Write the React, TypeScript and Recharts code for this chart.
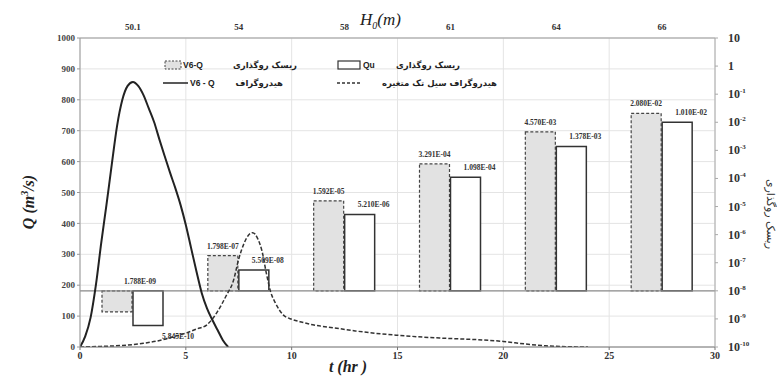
import {
  ComposedChart,
  Line,
  Bar,
  XAxis,
  YAxis,
  CartesianGrid,
  ReferenceLine,
  LabelList,
} from 'recharts';

document.body.style.margin = '0';

// top axis: H0 (m) per risk group
const heads = ['50.1', '54', '58', '61', '64', '66'];

// overtopping risk (right log axis), hanging from 1e-8
const riskV6Q = [1.788e-9, 1.798e-7, 1.592e-5, 3.291e-4, 4.57e-3, 2.08e-2];
const riskQu = [5.845e-10, 5.509e-8, 5.21e-6, 1.098e-4, 1.378e-3, 1.01e-2];
const riskV6QText = ['1.788E-09', '1.798E-07', '1.592E-05', '3.291E-04', '4.570E-03', '2.080E-02'];
const riskQuText = ['5.845E-10', '5.509E-08', '5.210E-06', '1.098E-04', '1.378E-03', '1.010E-02'];
const riskBase = 1e-8;

// V6-Q hydrograph
const v6qTime = [0, 0.25, 0.5, 0.75, 1, 1.25, 1.5, 1.75, 2, 2.25, 2.5, 2.75, 3, 3.25, 3.5, 3.75, 4, 4.25, 4.5, 4.75, 5, 5.25, 5.5, 5.75, 6, 6.25, 6.5, 6.75, 7];
const v6qFlow = [0, 35, 95, 200, 335, 460, 590, 715, 800, 845, 858, 845, 815, 772, 728, 672, 618, 565, 515, 460, 395, 320, 245, 175, 125, 88, 55, 22, 0];

// univariate flood hydrograph
const uniTime = [0, 1, 2, 3, 4, 4.5, 5, 5.5, 6, 6.5, 6.9, 7.25, 7.5, 7.75, 8, 8.15, 8.4, 8.6, 8.8, 9, 9.25, 9.6, 10, 10.5, 11, 12, 13, 14, 15, 16, 17, 18, 19, 20, 21, 22, 23, 24];
const uniFlow = [0, 2, 5, 12, 25, 35, 45, 58, 72, 115, 165, 215, 285, 335, 365, 370, 350, 310, 240, 180, 140, 104, 90, 80, 72, 62, 52, 44, 38, 33, 29, 26, 23, 18, 10, 4, 1, 0];

const flowTicks = [0, 100, 200, 300, 400, 500, 600, 700, 800, 900, 1000];
const timeTicks = [0, 5, 10, 15, 20, 25, 30];
const riskTicks = [10, 1, 1e-1, 1e-2, 1e-3, 1e-4, 1e-5, 1e-6, 1e-7, 1e-8, 1e-9, 1e-10];

const barRows = heads.map((h, i) => ({
  h,
  v6q: [Math.min(riskBase, riskV6Q[i]), Math.max(riskBase, riskV6Q[i])],
  qu: [Math.min(riskBase, riskQu[i]), Math.max(riskBase, riskQu[i])],
}));
const v6qData = v6qTime.map((t, i) => ({ t, q: v6qFlow[i] }));
const uniData = uniTime.map((t, i) => ({ t, q: uniFlow[i] }));

const serif = 'Liberation Serif';
const persian = 'DejaVu Sans';

function PowTick(props: any) {
  const { x, y, payload } = props;
  const exp = Math.round(Math.log10(payload.value));
  return (
    <text x={x + 8} y={y + 4} fontFamily={serif} fontWeight="bold" fontSize={12} fill="#333">
      {exp === 0 ? '1' : '10'}
      {exp !== 0 && exp !== 1 && (
        <tspan dy={-5} fontSize={7}>
          {exp}
        </tspan>
      )}
    </text>
  );
}

function grayLabel(props: any) {
  const { x, y, width, height, index } = props;
  const top = Math.min(y, y + height);
  const cx = x + width / 2 + (index === 0 ? 23 : 0);
  return (
    <text x={cx} y={top - 7} textAnchor="middle" fontFamily={serif} fontWeight="bold" fontSize={7.5} fill="#333">
      {riskV6QText[index]}
    </text>
  );
}

function whiteLabel(props: any) {
  const { x, y, width, height, index } = props;
  const top = Math.min(y, y + height);
  const bottom = Math.max(y, y + height);
  const cx = x + width / 2;
  if (index === 0) {
    return (
      <text x={cx + 14} y={bottom + 14} fontFamily={serif} fontWeight="bold" fontSize={7.5} fill="#333">
        {riskQuText[index]}
      </text>
    );
  }
  return (
    <text x={cx - 2} y={top - 7} fontFamily={serif} fontWeight="bold" fontSize={7.5} fill="#333">
      {riskQuText[index]}
    </text>
  );
}

export default function App() {
  return (
    <div style={{ position: 'relative', width: 777, height: 378, background: '#fff' }}>
      <ComposedChart
        width={777}
        height={378}
        data={barRows}
        margin={{ top: 18, right: 22, bottom: 11, left: 20 }}
        barGap={1}
      >
        <CartesianGrid xAxisId="t" yAxisId="q" stroke="#e4e4e4" />
        <XAxis
          xAxisId="t"
          dataKey="t"
          type="number"
          domain={[0, 30]}
          ticks={timeTicks}
          allowDataOverflow
          height={20}
          stroke="#777"
          tickSize={3}
          tick={{ fill: '#333', fontSize: 10, fontWeight: 'bold', fontFamily: serif }}
        />
        <XAxis
          xAxisId="cat"
          dataKey="h"
          orientation="top"
          height={20}
          stroke="#999"
          tickLine={false}
          tick={{ fill: '#333', fontSize: 9, fontWeight: 'bold', fontFamily: serif }}
        />
        <YAxis
          yAxisId="q"
          domain={[0, 1000]}
          ticks={flowTicks}
          allowDataOverflow
          width={60}
          stroke="#999"
          tickSize={3}
          tick={{ fill: '#444', fontSize: 9, fontWeight: 'bold', fontFamily: serif }}
        />
        <YAxis
          yAxisId="risk"
          orientation="right"
          scale="log"
          domain={[1e-10, 10]}
          ticks={riskTicks}
          allowDataOverflow
          width={40}
          stroke="#aaa"
          tickSize={3}
          tick={<PowTick />}
        />
        <ReferenceLine yAxisId="risk" xAxisId="cat" y={riskBase} stroke="#888" strokeWidth={1.2} />
        <Bar
          xAxisId="cat"
          yAxisId="risk"
          dataKey="v6q"
          barSize={30}
          fill="#e2e2e2"
          stroke="#444"
          strokeWidth={1.2}
          strokeDasharray="3 2"
          isAnimationActive={false}
        >
          <LabelList dataKey="v6q" content={grayLabel} />
        </Bar>
        <Bar
          xAxisId="cat"
          yAxisId="risk"
          dataKey="qu"
          barSize={30}
          fill="#fff"
          stroke="#333"
          strokeWidth={1.5}
          isAnimationActive={false}
        >
          <LabelList dataKey="qu" content={whiteLabel} />
        </Bar>
        <Line
          xAxisId="t"
          yAxisId="q"
          data={uniData}
          dataKey="q"
          type="monotone"
          stroke="#333"
          strokeWidth={1.5}
          strokeDasharray="4 2"
          dot={false}
          isAnimationActive={false}
        />
        <Line
          xAxisId="t"
          yAxisId="q"
          data={v6qData}
          dataKey="q"
          type="monotone"
          stroke="#222"
          strokeWidth={2}
          dot={false}
          isAnimationActive={false}
        />
      </ComposedChart>

      <svg
        width={777}
        height={378}
        style={{ position: 'absolute', left: 0, top: 0, pointerEvents: 'none' }}
      >
        {/* axis titles */}
        <text
          x={0}
          y={0}
          transform="translate(34,202) rotate(-90)"
          textAnchor="middle"
          fontFamily={serif}
          fontStyle="italic"
          fontWeight="bold"
          fontSize={16}
          fill="#222"
        >
          Q (m<tspan dy={-6} fontSize={10}>3</tspan>
          <tspan dy={6}>/s)</tspan>
        </text>
        <text x={348} y={372} textAnchor="middle" fontFamily={serif} fontStyle="italic" fontWeight="bold" fontSize={16} fill="#222">
          t (hr )
        </text>
        <text x={360} y={25} fontFamily={serif} fontStyle="italic" fontSize={17} fill="#222">
          H<tspan dy={4} fontSize={10}>0</tspan>
          <tspan dy={-4}>(m)</tspan>
        </text>
        <text
          x={0}
          y={0}
          transform="translate(767,214) rotate(90)"
          textAnchor="middle"
          fontFamily={persian}
          fontSize={11}
          fill="#333"
        >
          ریسک روگذاری
        </text>

        {/* legend */}
        <g fontWeight="bold" fontSize={8.5} fill="#222">
          <rect x={165} y={61} width={16} height={8} fill="#e2e2e2" stroke="#444" strokeDasharray="2 1.5" />
          <text x={183} y={68} fontFamily="Liberation Sans">V6-Q</text>
          <text x={297} y={68} textAnchor="end" fontFamily={persian}>ریسک روگذاری</text>

          <line x1={163} y1={83} x2={188} y2={83} stroke="#222" strokeWidth={1.5} />
          <text x={190} y={86} fontFamily="Liberation Sans">V6 - Q</text>
          <text x={283} y={86} textAnchor="end" fontFamily={persian}>هیدروگراف</text>

          <rect x={338} y={61} width={22} height={8} fill="#fff" stroke="#333" strokeWidth={1.2} />
          <text x={363} y={68} fontFamily="Liberation Sans">Qu</text>
          <text x={460} y={68} textAnchor="end" fontFamily={persian}>ریسک روگذاری</text>

          <line x1={337} y1={83} x2={362} y2={83} stroke="#333" strokeWidth={1.5} strokeDasharray="3 2" />
          <text x={497} y={86} textAnchor="end" fontFamily={persian}>هیدروگراف سیل تک متغیره</text>
        </g>
      </svg>
    </div>
  );
}
